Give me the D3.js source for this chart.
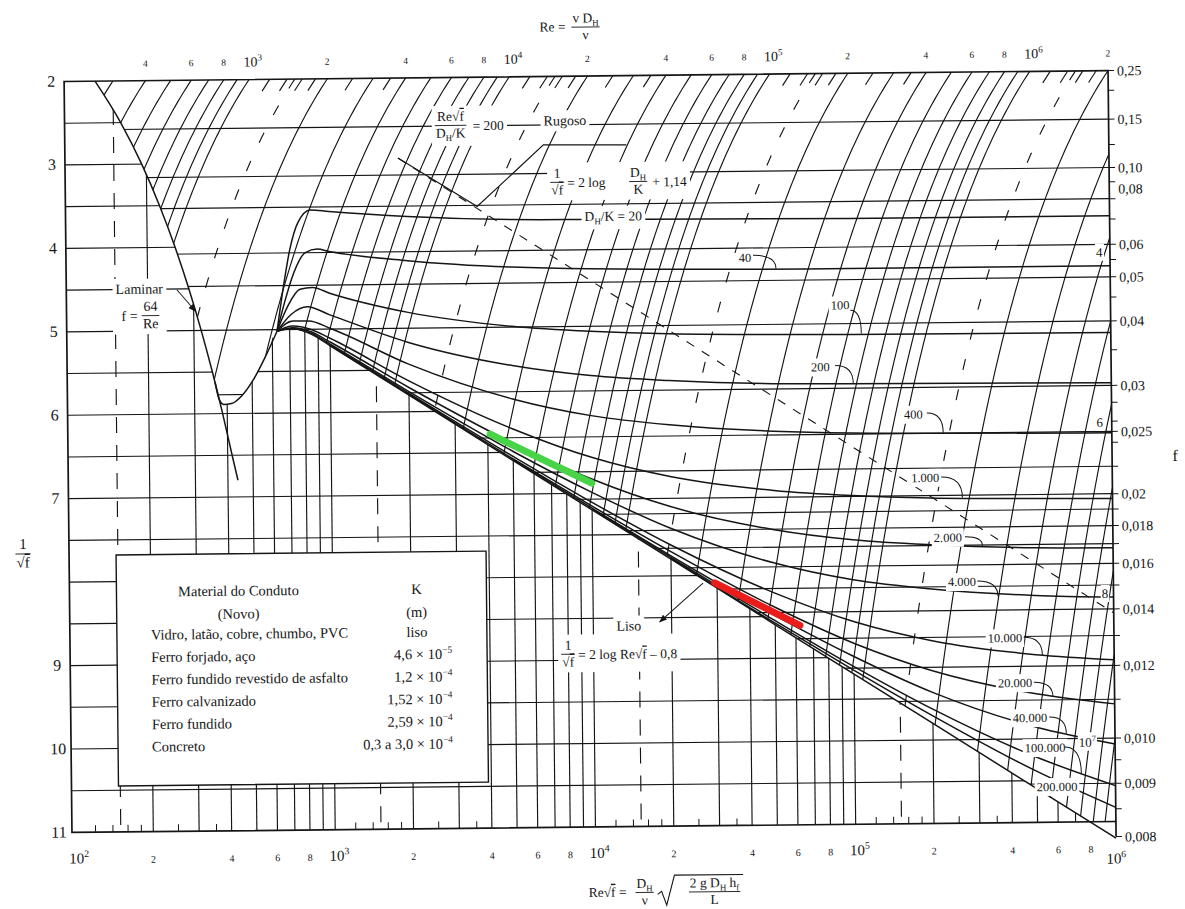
<!DOCTYPE html>
<html>
<head>
<meta charset="utf-8">
<script src="https://cdn.jsdelivr.net/npm/d3@7"></script>
<style>
  body { margin: 0; background: #fff; }
  text { font-family: "Liberation Serif", "DejaVu Serif", serif; fill: #161616; }
</style>
</head>
<body>
<svg id="chart" width="1185" height="909"></svg>
<script>
// ---------------- values ----------------

// left axis 1/sqrt(f)
var invTicks = [2, 3, 4, 5, 6, 7, 9, 10, 11];
var invGrid = [2.5, 3, 3.5, 4, 4.5, 5, 5.5, 6, 6.5, 7, 7.5, 8, 8.5, 9, 9.5, 10, 10.5];

// right axis f
var fTicks = [0.25, 0.2, 0.15, 0.12, 0.1, 0.09, 0.08, 0.07, 0.06, 0.055, 0.05, 0.045, 0.04, 0.035, 0.03, 0.028,
  0.026, 0.025, 0.024, 0.022, 0.02, 0.019, 0.018, 0.017, 0.016, 0.015, 0.014, 0.013, 0.012, 0.011, 0.01,
  0.0095, 0.009, 0.0085, 0.008];
var fLabels = ["0,25", "0,15", "0,10", "0,08", "0,06", "0,05", "0,04", "0,03", "0,025", "0,02", "0,018",
  "0,016", "0,014", "0,012", "0,010", "0,009", "0,008"];
var fGrid = [0.15, 0.1, 0.08, 0.06, 0.05, 0.04, 0.03, 0.025, 0.022, 0.02, 0.019, 0.018, 0.017, 0.016, 0.015,
  0.014, 0.013, 0.012, 0.011, 0.01, 0.009];

// bottom axis Re*sqrt(f)
var bottomDecades = [1e2, 1e3, 1e4, 1e5, 1e6];
var bottomDigits = [2, 4, 6, 8];
var bottomMinor = [120, 140, 160, 180, 250, 350, 1200, 1400, 1600, 1800, 2500, 3500, 12000, 14000, 16000, 18000,
  25000, 35000, 120000, 140000, 160000, 180000, 250000, 350000];
var xGrid = [200, 300, 400, 500, 600, 700, 800, 900, 1000, 2000, 3000, 4000, 5000, 6000, 7000, 8000, 9000,
  10000, 20000, 30000, 40000, 50000, 60000, 70000, 80000, 90000, 100000, 200000, 300000, 400000, 500000,
  600000, 700000, 800000, 900000];
var xGridDashed = [150, 1500, 15000, 150000];

// Reynolds number lines (top axis)
var reLines = [300, 400, 500, 600, 700, 800, 900, 1000, 2000, 3000, 4000, 5000, 6000, 7000, 8000, 9000,
  10000, 20000, 30000, 40000, 50000, 60000, 70000, 80000, 90000, 100000, 200000, 300000, 400000, 500000,
  600000, 700000, 800000, 900000, 1000000, 2000000, 3000000, 4000000, 5000000, 6000000, 7000000, 8000000,
  9000000, 10000000];
var reDashed = [1500, 15000, 150000, 1500000];
var reMinor = [1200, 1400, 1600, 1800, 2500, 3500, 12000, 14000, 16000, 18000, 25000, 35000, 120000, 140000,
  160000, 180000, 250000, 350000, 1200000, 1400000, 1600000, 1800000];
var reTopLabels = [400, 600, 800, 1000, 2000, 4000, 6000, 8000, 10000, 20000, 40000, 60000, 80000, 100000,
  200000, 400000, 600000, 800000, 1000000, 2000000];
var reSideLabels = ["4", "6", "8", "10^7"];
var reSideAt = [[9.1e5, 4.17], [9.0e5, 6.21], [9.27e5, 8.26], [7.83e5, 10.04]];

// curves as [Re*sqrt(f), 1/sqrt(f)]
var laminar = [[128, 2], [160, 2.5], [192, 3], [224, 3.5], [256, 4], [288, 4.5], [320, 5], [352, 5.5],
  [384, 6], [416, 6.5], [437, 6.8]];
var transition = [[360, 5.62], [372, 5.82], [388, 5.89], [415, 5.88], [455, 5.79], [505, 5.6], [560, 5.34], [626, 5.02]];
var smooth = [[626, 5.02], [720, 4.99], [850, 5.06], [1000, 5.2], [2000, 5.8], [5000, 6.6], [1e4, 7.2],
  [2e4, 7.8], [5e4, 8.6], [1e5, 9.2], [2e5, 9.8], [5e5, 10.6], [1e6, 11.2]];

var rough20 = [[626, 5.02], [660, 4.55], [705, 4.05], [760, 3.72], [850, 3.57], [1000, 3.59], [2000, 3.66],
  [5000, 3.71], [1e4, 3.72], [1e5, 3.74], [1e6, 3.74]];
var rough40 = [[626, 5.02], [670, 4.68], [730, 4.32], [810, 4.08], [900, 4.04], [1000, 4.07], [2000, 4.19],
  [5000, 4.28], [1e4, 4.31], [1e5, 4.34], [1e6, 4.34]];
var rough100 = [[626, 5.02], [690, 4.72], [770, 4.52], [860, 4.5], [1000, 4.57], [2000, 4.81], [5000, 4.99],
  [1e4, 5.06], [2e4, 5.1], [1e5, 5.13], [1e6, 5.14]];
var rough200 = [[626, 5.02], [710, 4.82], [820, 4.73], [1000, 4.83], [2000, 5.17], [5000, 5.46], [1e4, 5.59],
  [2e4, 5.66], [5e4, 5.71], [1e5, 5.72], [1e6, 5.74]];
var rough400 = [[626, 5.02], [720, 4.9], [830, 4.9], [1000, 4.99], [2000, 5.43], [5000, 5.86], [1e4, 6.07],
  [2e4, 6.19], [5e4, 6.28], [1e5, 6.31], [1e6, 6.34]];
var rough1000 = [[626, 5.02], [720, 4.96], [840, 5.0], [1000, 5.11], [2000, 5.63], [5000, 6.22], [1e4, 6.57],
  [2e4, 6.81], [5e4, 6.99], [1e5, 7.06], [2e5, 7.1], [5e5, 7.12], [1e6, 7.13]];
var rough2000 = [[626, 5.02], [720, 4.98], [845, 5.03], [1000, 5.155], [2000, 5.71], [5000, 6.39], [1e4, 6.83],
  [2e4, 7.17], [5e4, 7.46], [1e5, 7.59], [2e5, 7.66], [5e5, 7.71], [1e6, 7.72]];
var rough4000 = [[720, 4.99], [850, 5.05], [1000, 5.18], [2000, 5.76], [5000, 6.49], [1e4, 6.99], [2e4, 7.43],
  [5e4, 7.86], [1e5, 8.07], [2e5, 8.19], [5e5, 8.28], [1e6, 8.31]];
var rough10000 = [[1000, 5.19], [2000, 5.78], [5000, 6.55], [1e4, 7.11], [2e4, 7.63], [5e4, 8.22], [1e5, 8.57],
  [2e5, 8.81], [5e5, 8.99], [1e6, 9.06]];
var rough20000 = [[2000, 5.79], [5000, 6.58], [1e4, 7.155], [2e4, 7.71], [5e4, 8.39], [1e5, 8.83], [2e5, 9.17],
  [5e5, 9.46], [1e6, 9.59]];
var rough40000 = [[5000, 6.59], [1e4, 7.18], [2e4, 7.76], [5e4, 8.49], [1e5, 8.99], [2e5, 9.43], [5e5, 9.86],
  [1e6, 10.07]];
var rough100000 = [[1e4, 7.19], [2e4, 7.78], [5e4, 8.55], [1e5, 9.11], [2e5, 9.63], [5e5, 10.22], [1e6, 10.57]];
var rough200000 = [[2e4, 7.79], [5e4, 8.58], [1e5, 9.155], [2e5, 9.71], [5e5, 10.39], [1e6, 10.83]];

var roughLimit = [[1854, 2.96], [1e6, 8.5]];            // Re*sqrt(f)/(DH/K) = 200, dashed
var pointer = [[1854, 2.96], [3720, 3.55], [6720, 2.82], [14000, 2.83]];
var greenMark = [[4085, 6.28], [1.0e4, 6.88]];
var redMark = [[29400, 8.09], [62200, 8.61]];
var lisoArrow = [[26500, 8.09], [18000, 8.55]];
var laminarArrow = [[259, 4.51], [305, 4.77]];

var curveLabels = ["40", "100", "200", "400", "1.000", "2.000", "4.000", "10.000", "20.000", "40.000", "100.000", "200.000"];
var curveLabelAt = [[39600, 4.2], [91400, 4.78], [76400, 5.52], [1.73e5, 6.1], [1.91e5, 6.86], [2.32e5, 7.58],
  [2.62e5, 8.11], [3.81e5, 8.79], [4.15e5, 9.33], [4.72e5, 9.75], [5.38e5, 10.11], [5.96e5, 10.58]];
var curveLeaders = [[42500, 4.17, 52000, 4.33], [1.0e5, 4.84, 1.1e5, 5.12], [8.7e4, 5.5, 1.02e5, 5.72],
  [1.95e5, 6.08, 2.25e5, 6.32], [2.2e5, 6.85, 2.65e5, 7.1], [2.7e5, 7.57, 3.15e5, 7.68], [3.0e5, 8.1, 3.6e5, 8.29],
  [4.5e5, 8.78, 5.3e5, 9.0], [4.9e5, 9.32, 5.8e5, 9.5], [5.6e5, 9.74, 6.5e5, 9.94], [6.4e5, 10.1, 7.4e5, 10.43]];

// material table
var materials = ["Vidro, latão, cobre, chumbo, PVC", "Ferro forjado, aço", "Ferro fundido revestido de asfalto",
  "Ferro calvanizado", "Ferro fundido", "Concreto"];
var kBase = ["liso", "4,6 × 10", "1,2 × 10", "1,52 × 10", "2,59 × 10", "0,3 a 3,0 × 10"];
var kExp = ["", "−5", "−4", "−4", "−4", "−4"];

// ---------------- drawing ----------------
var ink = "#151515";
var svg = d3.select("#chart");
// the scanned sheet sits slightly rotated
var g = svg.append("g").attr("transform", "rotate(-0.6 591 451)");

var x = d3.scaleLog().domain([1e2, 1e6]).range([71, 1112]);
var y = d3.scaleLinear().domain([2, 11]).range([76, 827]);
var xl = x(1e2) - 3, xr = x(1e6), yt = y(2), yb = y(11);
var vLast = 1 / Math.sqrt(0.008);

var line = d3.line().x(function (d) { return x(d[0]); }).y(function (d) { return y(d[1]); });
var curve = d3.line().x(function (d) { return x(d[0]); }).y(function (d) { return y(d[1]); }).curve(d3.curveMonotoneX);

function reCurve(re, vTo) {
  var v0 = Math.max(2, re / 1e6), pts = [];
  for (var v = v0; v < vTo; v += 0.05) pts.push([re / v, v]);
  pts.push([re / vTo, vTo]);
  return pts;
}

// regions above / below the lower envelope
var envelope = laminar.filter(function (d) { return d[0] < transition[0][0]; })
  .concat(transition, smooth.slice(1));
var envD = curve(envelope);
var defs = g.append("defs");
defs.append("clipPath").attr("id", "above").append("path")
  .attr("d", envD + "L" + (xr + 1) + "," + y(vLast) + "L" + (xr + 1) + "," + (yt - 1) +
    "L" + x(laminar[0][0]) + "," + (yt - 1) + "Z");
defs.append("clipPath").attr("id", "below").append("path")
  .attr("d", envD + "L" + xr + "," + yb + "L" + xl + "," + yb + "L" + xl + "," + yt + "Z");
defs.append("marker").attr("id", "arrow").attr("viewBox", "0 0 10 10").attr("refX", 9).attr("refY", 5)
  .attr("markerWidth", 8).attr("markerHeight", 8).attr("orient", "auto")
  .append("path").attr("d", "M0,1L10,5L0,9Z").attr("fill", ink);

// rectangular grid under the smooth-pipe line
var below = g.append("g").attr("clip-path", "url(#below)").attr("stroke", ink).attr("stroke-width", 1.15);
below.selectAll("line.vh").data(invGrid).join("line").attr("class", "vh")
  .attr("x1", xl).attr("x2", xr).attr("y1", function (d) { return y(d); }).attr("y2", function (d) { return y(d); });
below.selectAll("line.xv").data(xGrid).join("line").attr("class", "xv")
  .attr("x1", function (d) { return x(d); }).attr("x2", function (d) { return x(d); }).attr("y1", yt).attr("y2", yb);
below.selectAll("line.xd").data(xGridDashed).join("line").attr("class", "xd")
  .attr("x1", function (d) { return x(d); }).attr("x2", function (d) { return x(d); }).attr("y1", yt).attr("y2", yb)
  .attr("stroke-dasharray", "16,12");

// f lines and Re lines above it
var above = g.append("g").attr("clip-path", "url(#above)").attr("stroke", ink).attr("stroke-width", 1.15).attr("fill", "none");
above.selectAll("line.fg").data(fGrid).join("line").attr("class", "fg")
  .attr("x1", xl).attr("x2", xr)
  .attr("y1", function (d) { return y(1 / Math.sqrt(d)); }).attr("y2", function (d) { return y(1 / Math.sqrt(d)); });
above.selectAll("path.re").data(reLines).join("path").attr("class", "re")
  .attr("d", function (d) { return line(reCurve(d, 11)); });
above.selectAll("path.red").data(reDashed).join("path").attr("class", "red")
  .attr("d", function (d) { return line(reCurve(d, 11)); }).attr("stroke-dasharray", "11,20");

g.append("g").attr("stroke", ink).attr("stroke-width", 1.15)
  .selectAll("path").data(reMinor).join("path")
  .attr("d", function (d) { return line([[d / 2, 2], [d / 2.14, 2.14]]); });

// friction curves
var curvesG = g.append("g").attr("fill", "none").attr("stroke", ink).attr("stroke-width", 1.5);
curvesG.append("path").attr("d", curve(laminar));
curvesG.append("path").attr("d", curve(transition));
curvesG.append("path").attr("d", curve(smooth));
[rough20, rough40, rough100, rough200, rough400, rough1000, rough2000, rough4000, rough10000, rough20000,
  rough40000, rough100000, rough200000].forEach(function (c) {
  curvesG.append("path").attr("d", curve(c));
});
curvesG.append("path").attr("d", line(roughLimit)).attr("stroke-width", 1.1).attr("stroke-dasharray", "9,9");
curvesG.append("path").attr("d", line(pointer)).attr("stroke-width", 1.2);

// highlighted stretches
g.append("path").attr("d", line(greenMark)).attr("stroke", "#47d447").attr("stroke-width", 7).attr("stroke-linecap", "round");
g.append("path").attr("d", line(redMark)).attr("stroke", "#ea1c1c").attr("stroke-width", 7).attr("stroke-linecap", "round");

// frame
g.append("rect").attr("x", xl).attr("y", yt).attr("width", xr - xl).attr("height", yb - yt)
  .attr("fill", "none").attr("stroke", ink).attr("stroke-width", 1.7);
g.append("line").attr("x1", xr).attr("x2", xr).attr("y1", yb).attr("y2", y(vLast)).attr("stroke", ink).attr("stroke-width", 1.7);

// ---------------- text helpers ----------------
function rich(t, parts, size) {
  var off = 0;
  parts.forEach(function (p) {
    if (typeof p === "string") p = [p, ""];
    var kind = p[1];
    var target = kind === "sub" ? size * 0.25 : kind === "sup" ? -size * 0.42 : 0;
    var s = t.append("tspan").attr("dy", target - off).text(p[0]);
    if (kind === "sub" || kind === "sup") s.attr("font-size", size * 0.65);
    if (kind === "over") s.style("text-decoration", "overline");
    off = target;
  });
}
function addText(parent, px, py, parts, size, anchor) {
  var t = parent.append("text").attr("x", px).attr("y", py).attr("font-size", size)
    .attr("text-anchor", anchor || "start");
  rich(t, parts, size);
  return t;
}
function fraction(parent, cx, by, num, den, size) {
  var fg = parent.append("g");
  var a = addText(fg, cx, by - size * 0.34, num, size, "middle");
  var b = addText(fg, cx, by + size * 0.9, den, size, "middle");
  var w = Math.max(a.node().getComputedTextLength(), b.node().getComputedTextLength()) + 2;
  fg.append("line").attr("x1", cx - w / 2).attr("x2", cx + w / 2).attr("y1", by).attr("y2", by)
    .attr("stroke", ink).attr("stroke-width", 0.9);
  return w;
}
var notes = g.append("g");
function note(build, pad) {
  var n = notes.append("g");
  build(n);
  var b = n.node().getBBox();
  n.insert("rect", ":first-child").attr("x", b.x - pad).attr("y", b.y - pad)
    .attr("width", b.width + 2 * pad).attr("height", b.height + 2 * pad).attr("fill", "#fff");
  return n;
}
var sqf = ["√", ["f", "over"]];

// ---------------- axes ----------------
var axes = g.append("g");
// right f ticks
axes.selectAll("line.ft").data(fTicks).join("line").attr("class", "ft")
  .attr("x1", xr).attr("x2", xr + 6)
  .attr("y1", function (d) { return y(1 / Math.sqrt(d)); }).attr("y2", function (d) { return y(1 / Math.sqrt(d)); })
  .attr("stroke", ink).attr("stroke-width", 1);
fLabels.forEach(function (s) {
  var f = +s.replace(",", ".");
  addText(axes, xr + 9, y(1 / Math.sqrt(f)) + 5 - (s === "0,08" ? 10 : 0), [s], 14);
});
// bottom minor ticks
axes.selectAll("line.bt").data(bottomMinor).join("line").attr("class", "bt")
  .attr("x1", function (d) { return x(d); }).attr("x2", function (d) { return x(d); })
  .attr("y1", yb).attr("y2", yb - 7).attr("stroke", ink).attr("stroke-width", 1);
// bottom labels
bottomDecades.forEach(function (d) {
  var p = Math.round(Math.log10(d));
  var last = d === 1e6;
  addText(axes, x(d) + (last ? 0 : 4), yb + (last ? 42 : 31), ["10", [String(p), "sup"]], 15, "middle");
  if (!last) bottomDigits.forEach(function (m) {
    addText(axes, x(m * d), yb + 31, [String(m)], 10, "middle");
  });
});
// top labels (Re along 1/sqrt(f) = 2)
reTopLabels.forEach(function (re) {
  var p = Math.floor(Math.log10(re) + 1e-9), lead = Math.round(re / Math.pow(10, p));
  if (lead === 1) addText(axes, x(re / 2) + 4, yt - 13, ["10", [String(p), "sup"]], 14, "middle");
  else addText(axes, x(re / 2), yt - 14, [String(lead)], 9.5, "middle");
});
// left labels
invTicks.forEach(function (v) {
  addText(axes, 55, y(v) + 5, [String(v)], 16, "middle");
});
fraction(axes, 22, 548, ["1"], sqf, 15);
addText(axes, 1175, 467, ["f"], 16, "middle");

// titles
var titleG = g.append("g");
addText(titleG, 544, 31, ["Re ="], 13.5);
fraction(titleG, 590, 27, ["v D", ["H", "sub"]], ["ν"], 13.5);
var bottomG = g.append("g");
addText(bottomG, 584, 897, ["Re"].concat(sqf, [" ="]), 13.5);
fraction(bottomG, 640, 893, ["D", ["H", "sub"]], ["ν"], 13.5);
var rw = fraction(bottomG, 710, 893, ["2 g D", ["H", "sub"], " h", ["f", "sub"]], ["L"], 13.5);
bottomG.append("path").attr("d", "M653,895L657,892L662,906L670,876L" + (710 + rw / 2 + 3) + ",876")
  .attr("fill", "none").attr("stroke", ink).attr("stroke-width", 1.1);

// ---------------- annotations ----------------
note(function (n) {
  addText(n, 141, 289, ["Laminar"], 14, "middle");
  addText(n, 131, 316, ["f ="], 14, "middle");
  fraction(n, 152, 311, ["64"], ["Re"], 14);
}, 3);
g.append("path").attr("d", line(laminarArrow)).attr("stroke", ink).attr("stroke-width", 1).attr("marker-end", "url(#arrow)");

note(function (n) {
  fraction(n, 454, 124, ["Re"].concat(sqf), ["D", ["H", "sub"], "/K"], 13.5);
  addText(n, 476, 129, ["= 200"], 13.5);
}, 3);
note(function (n) { addText(n, 547, 125, ["Rugoso"], 14); }, 3);
note(function (n) {
  fraction(n, 560, 182, ["1"], sqf, 13.5);
  addText(n, 570, 187, ["= 2 log"], 13.5);
  fraction(n, 641, 182, ["D", ["H", "sub"]], ["K"], 13.5);
  addText(n, 655, 187, ["+ 1,14"], 13.5);
}, 3);
note(function (n) { addText(n, 587, 221, ["D", ["H", "sub"], "/K = 20"], 13.5); }, 3);
note(function (n) { addText(n, 627, 631, ["Liso"], 14, "middle"); }, 3);
note(function (n) {
  fraction(n, 566, 654, ["1"], sqf, 13.5);
  addText(n, 576, 659, ["= 2 log Re"].concat(sqf, [" – 0,8"]), 13.5);
}, 3);
g.append("path").attr("d", line(lisoArrow)).attr("stroke", ink).attr("stroke-width", 1).attr("marker-end", "url(#arrow)");

curveLabels.forEach(function (s, i) {
  note(function (n) {
    addText(n, x(curveLabelAt[i][0]), y(curveLabelAt[i][1]) + 4, [s], 12.5, "middle");
  }, 2);
});
curveLeaders.forEach(function (l) {
  var ax = x(l[0]), ay = y(l[1]), bx = x(l[2]), by = y(l[3]);
  g.append("path").attr("d", "M" + ax + "," + ay + "Q" + bx + "," + ay + " " + bx + "," + by)
    .attr("fill", "none").attr("stroke", ink).attr("stroke-width", 1);
});
reSideLabels.forEach(function (s, i) {
  note(function (n) {
    var px = x(reSideAt[i][0]), py = y(reSideAt[i][1]) + 5;
    if (s === "10^7") addText(n, px, py, ["10", ["7", "sup"]], 13, "middle");
    else addText(n, px, py, [s], 13, "middle");
  }, 1);
});

// ---------------- material table ----------------
var tb = g.append("g");
tb.append("rect").attr("x", 115).attr("y", 550).attr("width", 370).attr("height", 231)
  .attr("fill", "#fff").attr("stroke", ink).attr("stroke-width", 1.4);
addText(tb, 237, 592, ["Material do Conduto"], 14.5, "middle");
addText(tb, 415, 592, ["K"], 14.5, "middle");
addText(tb, 237, 615, ["(Novo)"], 14.5, "middle");
addText(tb, 415, 615, ["(m)"], 14.5, "middle");
materials.forEach(function (m, i) {
  addText(tb, 149, 635 + i * 22.4, [m], 14.5);
  if (kExp[i]) addText(tb, 450, 635 + i * 22.4, [kBase[i], [kExp[i], "sup"]], 14.5, "end");
  else addText(tb, 415, 635 + i * 22.4, [kBase[i]], 14.5, "middle");
});
</script>
</body>
</html>
